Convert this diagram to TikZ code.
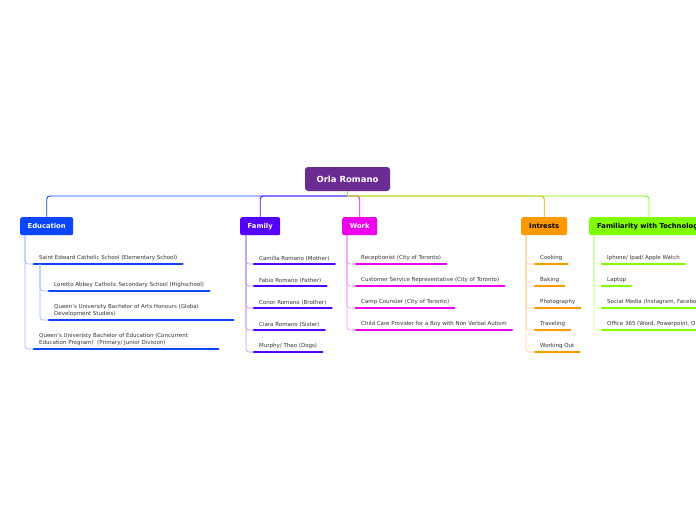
\documentclass[tikz,border=0pt]{standalone}
\usepackage{fontspec}
\setmainfont{DejaVu Sans}
\usetikzlibrary{calc}
\definecolor{rootc}{HTML}{6A2C91}
\definecolor{educ}{HTML}{0A46FF}
\definecolor{famc}{HTML}{5500FF}
\definecolor{workc}{HTML}{EE00EE}
\definecolor{intc}{HTML}{FF9900}
\definecolor{techc}{HTML}{7FFF00}
\definecolor{leafc}{HTML}{333333}
\newcommand\mmleaf[6]{%
  \node[leaf] (#1) at (#3,#4-3.0) {#6};
  \coordinate (#1a) at ($(#1.south west)+(-5,3.0)$);
  \coordinate (#1b) at ($(#1.south east)+(5,3.0)$);
  \draw[sub,#5!40] (#2) |- (#1a);
  \draw[uline,#5] (#1a) -- (#1b);}
\begin{document}
\begin{tikzpicture}[x=1pt,y=-1pt,
  rootbox/.style={fill=rootc, rounded corners=3pt, text=white, font=\fontsize{8.5}{10}\selectfont\bfseries, minimum width=85pt, minimum height=24pt, inner sep=0},
  branchbox/.style={rounded corners=2pt, font=\fontsize{6.8}{8}\selectfont\bfseries, minimum height=18pt, inner sep=0, anchor=north west},
  leaf/.style={anchor=south west, inner sep=0, font=\fontsize{5.5}{7}\selectfont, text=leafc, align=left},
  uline/.style={line width=2.6pt, line cap=round},
  conn/.style={line width=0.9pt},
  sub/.style={line width=0.7pt, rounded corners=3pt}
]
\useasboundingbox (0,0) rectangle (696,520);
\clip (0,0) rectangle (696,520);
\fill[white] (0,0) rectangle (696,520);

\node[rootbox] (root) at (347.5,179) {Orla Romano};
\node[branchbox, fill=educ, text=white, minimum width=53pt] (edu) at (20,217) {Education};
\node[branchbox, fill=famc, text=white, minimum width=40pt] (fam) at (240,217) {Family};
\node[branchbox, fill=workc, text=white, minimum width=35pt] (work) at (342,217) {Work};
\node[branchbox, fill=intc, text=black, minimum width=46pt] (int) at (521,217) {Intrests};
\node[branchbox, fill=techc, text=black, inner xsep=8pt] (tech) at (589,217) {Familiarity with Technology};

\coordinate (rb) at (347.5,196);
\coordinate (techtop) at (649,217);
\draw[conn, educ] (root.south) -- (rb);
\draw[conn, educ, rounded corners=3pt] (rb) -| (edu.north);
\draw[conn, famc, rounded corners=3pt] (rb) -| (fam.north);
\draw[conn, workc, rounded corners=3pt] (rb) -| (work.north);
\draw[conn, intc, rounded corners=3pt] (rb) -| (int.north);
\draw[conn, techc, rounded corners=3pt] (rb) -| (techtop);
\draw[conn, techc] (root.south) -- (rb);

\coordinate (eduv) at (25,235);
\coordinate (famv) at (246,235);
\coordinate (workv) at (347,235);
\coordinate (intv) at (526,235);
\coordinate (techv) at (594,235);

% Education
\mmleaf{e1}{eduv}{39}{264}{educ}{Saint Edward Catholic School (Elementary School)}
\coordinate (e1v) at ($(e1a)+(6,0)$);
\mmleaf{e2}{e1v}{54}{291}{educ}{Loretto Abbey Catholic Secondary School (Highschool)}
\mmleaf{e3}{e1v}{54}{320}{educ}{\parbox[b]{174pt}{\raggedright Queen's University Bachelor of Arts Honours (Global\\Development Studies)}}
\mmleaf{e4}{eduv}{39}{349}{educ}{\parbox[b]{174pt}{\raggedright Queen's Univeristy Bachelor of Education (Concurrent\\Education Program)\ \ (Primary/ Junior Division)}}

% Family
\mmleaf{f1}{famv}{259}{264}{famc}{Camilla Romano (Mother)}
\mmleaf{f2}{famv}{259}{286}{famc}{Fabio Romano (Father)}
\mmleaf{f3}{famv}{259}{308}{famc}{Conor Romano (Brother)}
\mmleaf{f4}{famv}{259}{330}{famc}{Ciara Romano (Sister)}
\mmleaf{f5}{famv}{259}{352}{famc}{Murphy/ Theo (Dogs)}

% Work
\mmleaf{w1}{workv}{361}{264}{workc}{Receptionist (City of Toronto)}
\mmleaf{w2}{workv}{361}{286}{workc}{Customer Service Representative (City of Toronto)}
\mmleaf{w3}{workv}{361}{308}{workc}{Camp Counsler (City of Toronto)}
\mmleaf{w4}{workv}{361}{330}{workc}{Child Care Provider for a Boy with Non Verbal Autism}

% Intrests
\mmleaf{i1}{intv}{540}{264}{intc}{Cooking}
\mmleaf{i2}{intv}{540}{286}{intc}{Baking}
\mmleaf{i3}{intv}{540}{308}{intc}{Photography}
\mmleaf{i4}{intv}{540}{330}{intc}{Traveling}
\mmleaf{i5}{intv}{540}{352}{intc}{Working Out}

% Technology
\mmleaf{t1}{techv}{607}{264}{techc}{Iphone/ Ipad/ Apple Watch}
\mmleaf{t2}{techv}{607}{286}{techc}{Laptop}
\mmleaf{t3}{techv}{607}{308}{techc}{Social Media (Instagram, Facebook)}
\mmleaf{t4}{techv}{607}{330}{techc}{Office 365 (Word, Powerpoint, Outlook)}
\end{tikzpicture}
\end{document}
